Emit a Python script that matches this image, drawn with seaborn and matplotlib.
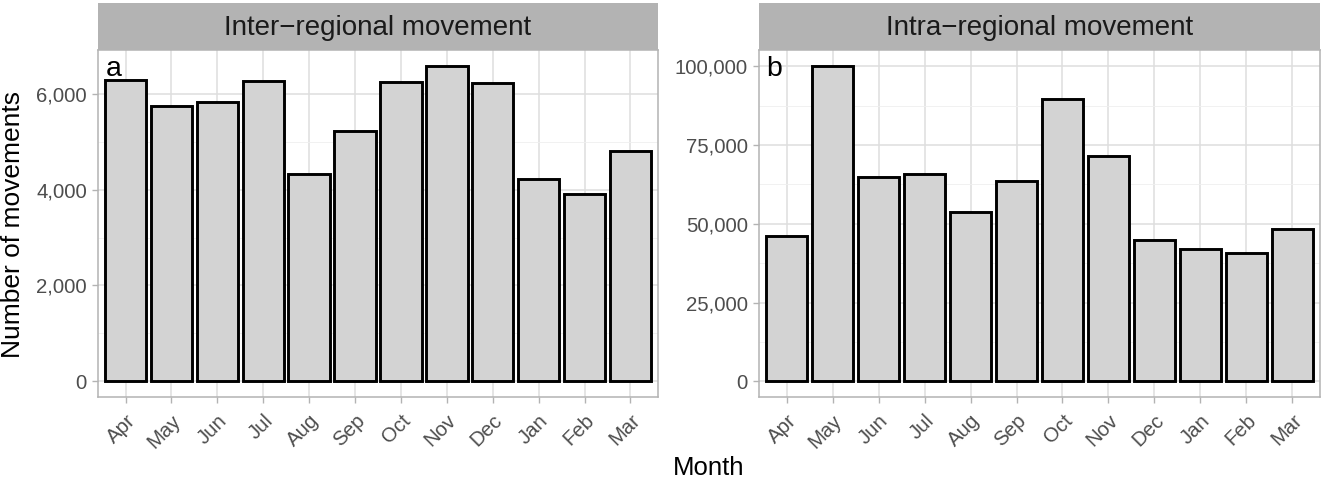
import matplotlib
matplotlib.use("Agg")
import matplotlib.pyplot as plt
import seaborn as sns
import pandas as pd
from matplotlib.ticker import FuncFormatter, MultipleLocator

# ---- data ----
months = ["Apr", "May", "Jun", "Jul", "Aug", "Sep", "Oct", "Nov", "Dec", "Jan", "Feb", "Mar"]
inter_regional = [6290, 5760, 5840, 6270, 4320, 5230, 6250, 6590, 6235, 4220, 3905, 4810]
intra_regional = [46250, 100200, 64950, 65900, 53650, 63700, 89750, 71500, 45000, 41900, 40650, 48250]
panel_titles = ["Inter\u2212regional movement", "Intra\u2212regional movement"]
panel_tags = ["a", "b"]
y_major_steps = [2000, 25000]

sns.set_theme(style="white")
plt.rcParams["font.family"] = ["Liberation Sans", "DejaVu Sans"]

W, H = 1325, 479
fig = plt.figure(figsize=(W / 100, H / 100), dpi=100)

def px_axes(x0, x1, y_top, y_bot):
    return fig.add_axes([x0 / W, (H - y_bot) / H, (x1 - x0) / W, (y_bot - y_top) / H])

grid_major = "#DEDEDE"
grid_minor = "#EFEFEF"
border = "#B3B3B3"
tick_col = "#4D4D4D"

panels = [(98, 658), (759, 1320)]
series = [inter_regional, intra_regional]

for i, ((x0, x1), vals, title, tag, step) in enumerate(zip(panels, series, panel_titles, panel_tags, y_major_steps)):
    ax = px_axes(x0, x1, 50, 397)
    df = pd.DataFrame({"Month": months, "Movements": vals})
    sns.barplot(data=df, x="Month", y="Movements", order=months, color="#D3D3D3",
                edgecolor="black", linewidth=2.1, width=0.9, saturation=1, ax=ax, zorder=3)
    for p in ax.patches:
        p.set_facecolor("#D3D3D3")
    vmax = max(vals)
    ax.set_ylim(-0.05 * vmax, 1.05 * vmax)
    ax.set_xlim(-0.6, len(months) - 1 + 0.6)
    ax.yaxis.set_major_locator(MultipleLocator(step))
    ax.yaxis.set_minor_locator(MultipleLocator(step / 2))
    ax.yaxis.set_major_formatter(FuncFormatter(lambda v, p: f"{int(round(v)):,}"))
    ax.grid(True, which="major", color=grid_major, linewidth=1.1, zorder=0)
    ax.grid(True, which="minor", axis="y", color=grid_minor, linewidth=0.6, zorder=0)
    ax.set_axisbelow(True)
    for s in ax.spines.values():
        s.set_color(border)
        s.set_linewidth(1.1)
    ax.tick_params(axis="both", which="major", length=4.5, width=1, color=border,
                   labelcolor=tick_col, labelsize=14.7, pad=3.5, left=True, bottom=True)
    ax.tick_params(axis="x", which="major", pad=5.5)
    ax.tick_params(axis="y", which="minor", length=0)
    ax.set_xticks(range(len(months)))
    ax.set_xticklabels(months, rotation=45, ha="right", va="top", rotation_mode="anchor")
    ax.set_xlabel("")
    ax.set_ylabel("")
    ax.text(0.013, 0.925, tag, transform=ax.transAxes, fontsize=20.5, color="black",
            ha="left", va="baseline", zorder=5)

    # strip
    sax = px_axes(x0, x1, 3, 50)
    sax.set_facecolor("#B3B3B3")
    sax.set_xticks([])
    sax.set_yticks([])
    for s in sax.spines.values():
        s.set_visible(False)
    sax.text(0.5, 0.47, title, transform=sax.transAxes, ha="center", va="center",
             fontsize=20, color="#1A1A1A")

fig.text(13 / W, (H - 224) / H, "Number of movements", rotation=90, ha="center", va="center",
         fontsize=19, color="black")
fig.text(709 / W, (H - 475) / H, "Month", ha="center", va="baseline", fontsize=18.5, color="black")

fig.savefig("out.png", dpi=100, facecolor="white")
